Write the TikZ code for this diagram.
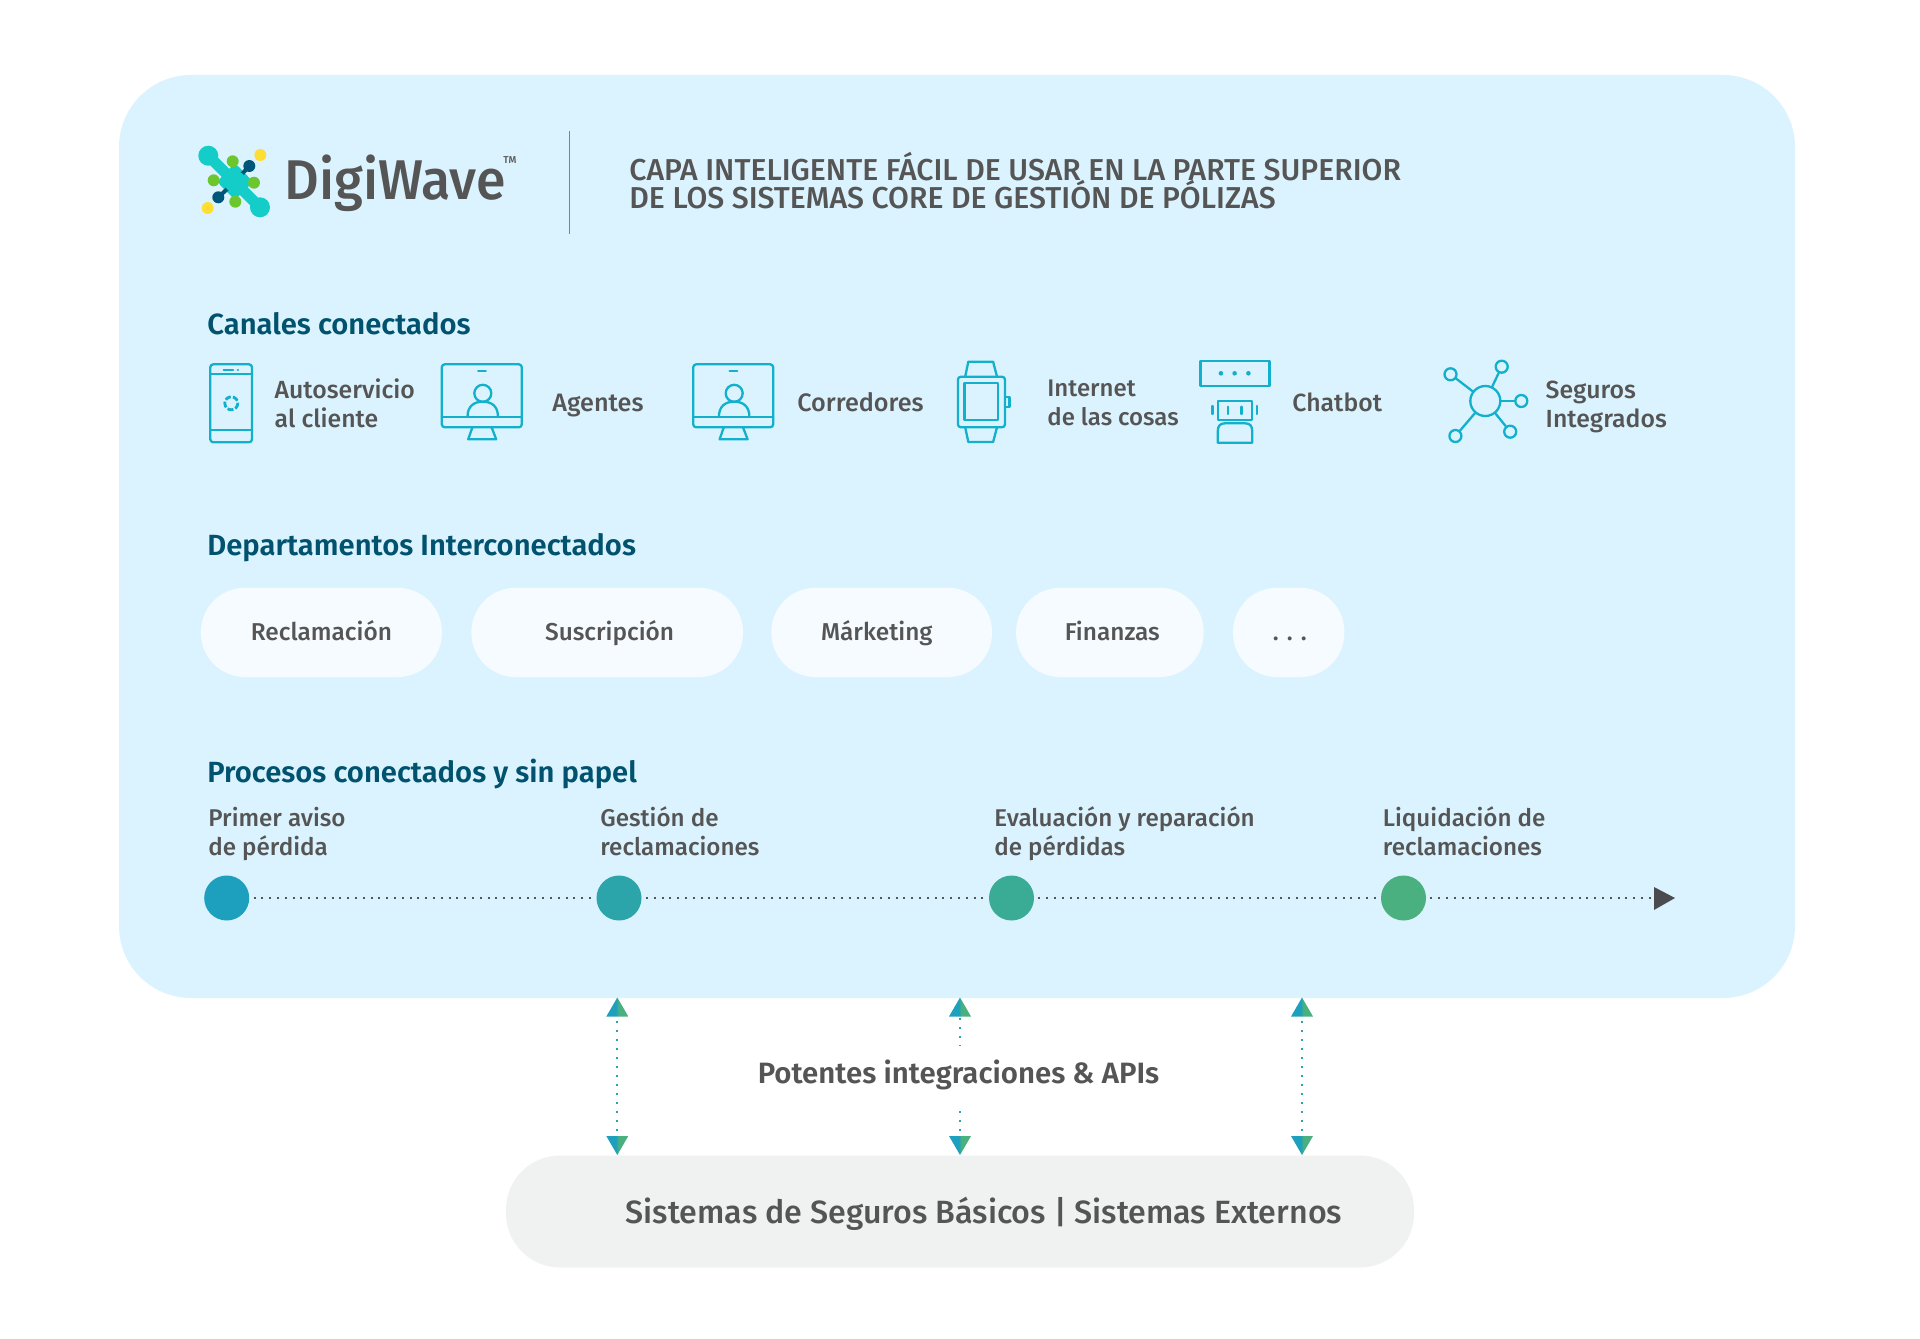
\documentclass[tikz,border=0pt]{standalone}
\usepackage{fontspec}
\setmainfont{Fira Sans Medium}[BoldFont={Fira Sans SemiBold}]
\usetikzlibrary{calc}
\definecolor{panel}{HTML}{DBF3FE}
\definecolor{pillc}{HTML}{F5FBFE}
\definecolor{basec}{HTML}{F0F2F2}
\definecolor{txt}{HTML}{555555}
\definecolor{head}{HTML}{00526E}
\definecolor{ico}{HTML}{12B0CC}
\definecolor{gA}{HTML}{1DA0BE}
\definecolor{gB}{HTML}{2BA5AA}
\definecolor{gC}{HTML}{3AAC96}
\definecolor{gD}{HTML}{4AB07F}
\definecolor{lteal}{HTML}{14CCC8}
\definecolor{lgreen}{HTML}{6CC72E}
\definecolor{lyellow}{HTML}{FFDD33}
\definecolor{lblue}{HTML}{00567A}
\definecolor{tipc}{HTML}{4A4A4F}
\pgfdeclarehorizontalshading{arrowgrad}{100bp}{color(0bp)=(gA); color(47bp)=(gA); color(53bp)=(gD); color(100bp)=(gD)}
\tikzset{
  x=0.5pt,y=-0.5pt,
  label/.style={inner sep=0pt,anchor=west,align=left,text=txt,font=\fontsize{12.4}{14.6}\selectfont,execute at begin node={\lineskiplimit=-8pt\relax\strut},execute at end node=\strut},
  proclabel/.style={label,font=\fontsize{12.1}{14.6}\selectfont},
  heading/.style={inner sep=0pt,anchor=west,text=head,font=\fontsize{14.6}{17}\selectfont\bfseries,execute at begin node=\strut},
  pill/.style={inner sep=0pt,rounded corners=22pt,fill=pillc,text=txt,font=\fontsize{12.2}{14}\selectfont,text height=12.3pt,text depth=4.2pt},
  stepdot/.style={circle,inner sep=0pt,minimum size=22.5pt},
  icon/.style={draw=ico,line width=1.15pt,line join=round,line cap=round},
  timeline/.style={draw=txt,line width=1pt,dash pattern=on 1pt off 2.9pt},
  apiline/.style={draw=gB,line width=1pt,dash pattern=on 1pt off 3.5pt},
}
\newcommand{\uptri}[1]{\path[shading=arrowgrad] ($(#1)+(-11,19)$) -- (#1) -- ($(#1)+(11,19)$) -- cycle;}
\newcommand{\dntri}[1]{\path[shading=arrowgrad] ($(#1)+(-11,-19)$) -- (#1) -- ($(#1)+(11,-19)$) -- cycle;}
\newcommand{\monitor}[1]{%
\begin{scope}[xshift=#1*0.5pt]
  \draw[icon,rounded corners=1.5pt] (441.8,364.3) rectangle (521.8,427.3);
  \draw[icon] (441.8,417) -- (521.8,417);
  \draw[icon] (478.2,371) -- (485.8,371);
  \draw[icon] (482.8,393.3) circle[radius=8.5];
  \draw[icon] (467.5,417) .. controls (467.5,406) and (474,401.7) .. (482.8,401.7) .. controls (491.5,401.7) and (498,406) .. (498,417);
  \draw[icon] (472.4,427.3) -- (468.2,439.3) -- (496.2,439.3) -- (491.6,427.3);
\end{scope}}
\begin{document}
\begin{tikzpicture}
\useasboundingbox (0,0) rectangle (1920,1338);
% panels
\node[fill=panel,inner sep=0pt,rounded corners=36pt,minimum width=838pt,minimum height=461.5pt] (panel) at (957,536.5) {};
\node[fill=basec,inner sep=0pt,rounded corners=27pt,minimum width=454pt,minimum height=56pt,text=txt,font=\fontsize{16.1}{20}\selectfont,text height=17.5pt,text depth=6pt] (base) at (960,1211.5) {\hspace{24pt}Sistemas de Seguros Básicos | Sistemas Externos};
% logo
\draw[lteal,line width=5.5pt,line cap=round] (208.3,155.7) -- (260,207.3);
\fill[lteal] (208.3,155.7) circle[radius=10] (260,207.3) circle[radius=10];
\fill[lteal,rounded corners=2pt] (235,163) -- (253,181.7) -- (235,200) -- (217,181.7) -- cycle;
\draw[lblue,line width=2pt] (235,181.7) -- (249.3,166) (235,181.7) -- (218.3,197.3);
\fill[lteal] (235,181.7) circle[radius=11];
\fill[lblue] (249.3,166) circle[radius=6] (218.3,197.3) circle[radius=6];
\fill[lgreen] (232.7,161.3) circle[radius=6] (213.7,180.3) circle[radius=6] (254,182.7) circle[radius=6] (235.3,201.7) circle[radius=6];
\fill[lyellow] (260.3,155) circle[radius=6] (207.7,208) circle[radius=6];
\node[inner sep=0pt,anchor=base west,text=txt,font=\fontsize{28}{30}\selectfont] (logotext) at (284,199.5) {\scalebox{0.957}[1]{DigiWave}};
\node[inner sep=0pt,anchor=west,text=txt,font=\fontsize{5}{6}\selectfont] (tm) at (503,160) {TM};
\draw[draw=black!45!panel,line width=0.7pt] (569.5,131) -- (569.5,234);
\node[label,font=\fontsize{15.1}{14.2}\selectfont] (title) at (629,184.5) {CAPA INTELIGENTE FÁCIL DE USAR EN LA PARTE SUPERIOR\\DE LOS SISTEMAS CORE DE GESTIÓN DE PÓLIZAS};
% headings
\node[heading] (h1) at (207,328) {Canales conectados};
\node[heading] (h2) at (207,548.7) {Departamentos Interconectados};
\node[heading] (h3) at (207,775.5) {Procesos conectados y sin papel};
% phone
\draw[icon,rounded corners=1.5pt] (210.3,364.3) rectangle (252,442.3);
\draw[icon] (210.3,374.3) -- (252,374.3) (210.3,429.7) -- (252,429.7);
\draw[icon] (223.7,369.7) -- (233.2,369.7) (237.8,369.7) -- (238,369.7);
\draw[icon,line cap=butt,line width=1.4pt,dash pattern=on 3pt off 1pt] (231.3,403.3) circle[radius=6.5];
\node[label] (l1) at (274.3,407.7) {Autoservicio\\al cliente};
% monitors
\monitor{0}
\node[label,font=\fontsize{12.6}{14.6}\selectfont] (l2) at (552,405.7) {Agentes};
\monitor{251.4}
\node[label,font=\fontsize{12.6}{14.6}\selectfont] (l3) at (797,405.7) {Corredores};
% watch
\draw[icon,rounded corners=1.5pt] (957.9,376.7) rectangle (1005,427.3);
\draw[icon] (964.4,383.3) rectangle (998.1,420);
\draw[icon] (965.2,376.7) -- (968.3,361.7) -- (993.1,361.7) -- (997,376.7);
\draw[icon] (965.2,427.3) -- (968.3,442) -- (993.1,442) -- (997,427.3);
\draw[icon] (1005,397.3) -- (1009.6,397.3) -- (1009.6,406.7) -- (1005,406.7);
\node[label,font=\fontsize{12}{14.6}\selectfont] (l4) at (1047,406.7) {Internet\\de las cosas};
% chatbot
\draw[icon] (1200.6,360.7) rectangle (1269.5,386);
\fill[ico] (1220.9,373.3) circle[radius=2.3] (1234.6,373.3) circle[radius=2.3] (1248.4,373.3) circle[radius=2.3];
\draw[icon] (1217.8,400.7) rectangle (1252.2,420);
\draw[icon] (1228.1,406.7) -- (1228.1,414) (1241.5,406.7) -- (1241.5,414) (1212.4,406) -- (1212.4,414) (1257.2,406) -- (1257.2,414);
\draw[icon] (1217.8,442.7) -- (1217.8,431) .. controls (1217.8,426) and (1220,423.3) .. (1225,423.3) -- (1245,423.3) .. controls (1250,423.3) and (1252.2,426) .. (1252.2,431) -- (1252.2,442.7) -- cycle;
\node[label] (l5) at (1292,405.7) {Chatbot};
% hub
\node[circle,draw=ico,line width=1.15pt,inner sep=0pt,minimum size=15pt] (hub) at (1485.3,401) {};
\foreach \n/\a/\b in {s1/1450.5/374.3,s2/1501.7/366.7,s3/1521.3/401,s4/1510.2/431.7,s5/1455.4/436}{
  \node[circle,draw=ico,line width=1.15pt,inner sep=0pt,minimum size=6pt] (\n) at (\a,\b) {};
  \draw[icon] (hub) -- (\n);
}
\node[label] (l6) at (1545.3,408.5) {Seguros\\Integrados};
% pills
\node[pill,minimum width=120.5pt,minimum height=44.6pt] (p1) at (321.4,632.4) {Reclamación};
\node[pill,minimum width=135.8pt,minimum height=44.6pt] (p2) at (607.2,632.4) {\hspace{2.4pt}Suscripción};
\node[pill,minimum width=110.3pt,minimum height=44.6pt] (p3) at (881.7,632.4) {Márketing\hspace{4.9pt}\mbox{}};
\node[pill,minimum width=93.8pt,minimum height=44.6pt] (p4) at (1109.9,632.4) {\hspace{2.4pt}Finanzas};
\node[pill,minimum width=55.7pt,minimum height=44.6pt] (p5) at (1288.7,632.4) {\hspace{1pt}. . .};
% process
\node[proclabel] (t1) at (208,835.4) {Primer aviso\\de pérdida};
\node[proclabel] (t2) at (600,835.4) {Gestión de\\reclamaciones};
\node[proclabel] (t3) at (994,835.4) {Evaluación y reparación\\de pérdidas};
\node[proclabel] (t4) at (1382.5,835.4) {Liquidación de\\reclamaciones};
\node[stepdot,fill=gA] (c1) at (226.7,898) {};
\node[stepdot,fill=gB] (c2) at (619,898) {};
\node[stepdot,fill=gC] (c3) at (1011.5,898) {};
\node[stepdot,fill=gD] (c4) at (1403.5,898) {};
\coordinate (tipend) at (1675,898);
\coordinate (tipbase) at (1655,898);
\draw[timeline] ($(c1.east)+(4,0)$) -- (c2.west);
\draw[timeline] ($(c2.east)+(4,0)$) -- (c3.west);
\draw[timeline] ($(c3.east)+(4,0)$) -- (c4.west);
\draw[timeline] ($(c4.east)+(4,0)$) -- (tipbase);
\fill[tipc] (1654,887) -- (tipend) -- (1654,910) -- cycle;
% API arrows
\coordinate (au1) at (617.3,997.5); \coordinate (ad1) at (617.3,1155);
\coordinate (au2) at (960,997.5);   \coordinate (ad2) at (960,1155);
\coordinate (au3) at (1302,997.5);  \coordinate (ad3) at (1302,1155);
\coordinate (gapt) at (960,1046);   \coordinate (gapb) at (960,1110);
\node[inner sep=0pt,text=txt,font=\fontsize{14.7}{17}\selectfont\bfseries,execute at begin node=\strut] (api) at (958.5,1077) {Potentes integraciones \& APIs};
\draw[apiline] ($(au1)+(0,23.5)$) -- ($(ad1)+(0,-23)$);
\draw[apiline] ($(au3)+(0,23.5)$) -- ($(ad3)+(0,-23)$);
\draw[apiline] ($(au2)+(0,20)$) -- (gapt);
\draw[apiline] ($(ad2)+(0,-24)$) -- (gapb);
\uptri{au1}\uptri{au2}\uptri{au3}
\dntri{ad1}\dntri{ad2}\dntri{ad3}
\end{tikzpicture}
\end{document}
